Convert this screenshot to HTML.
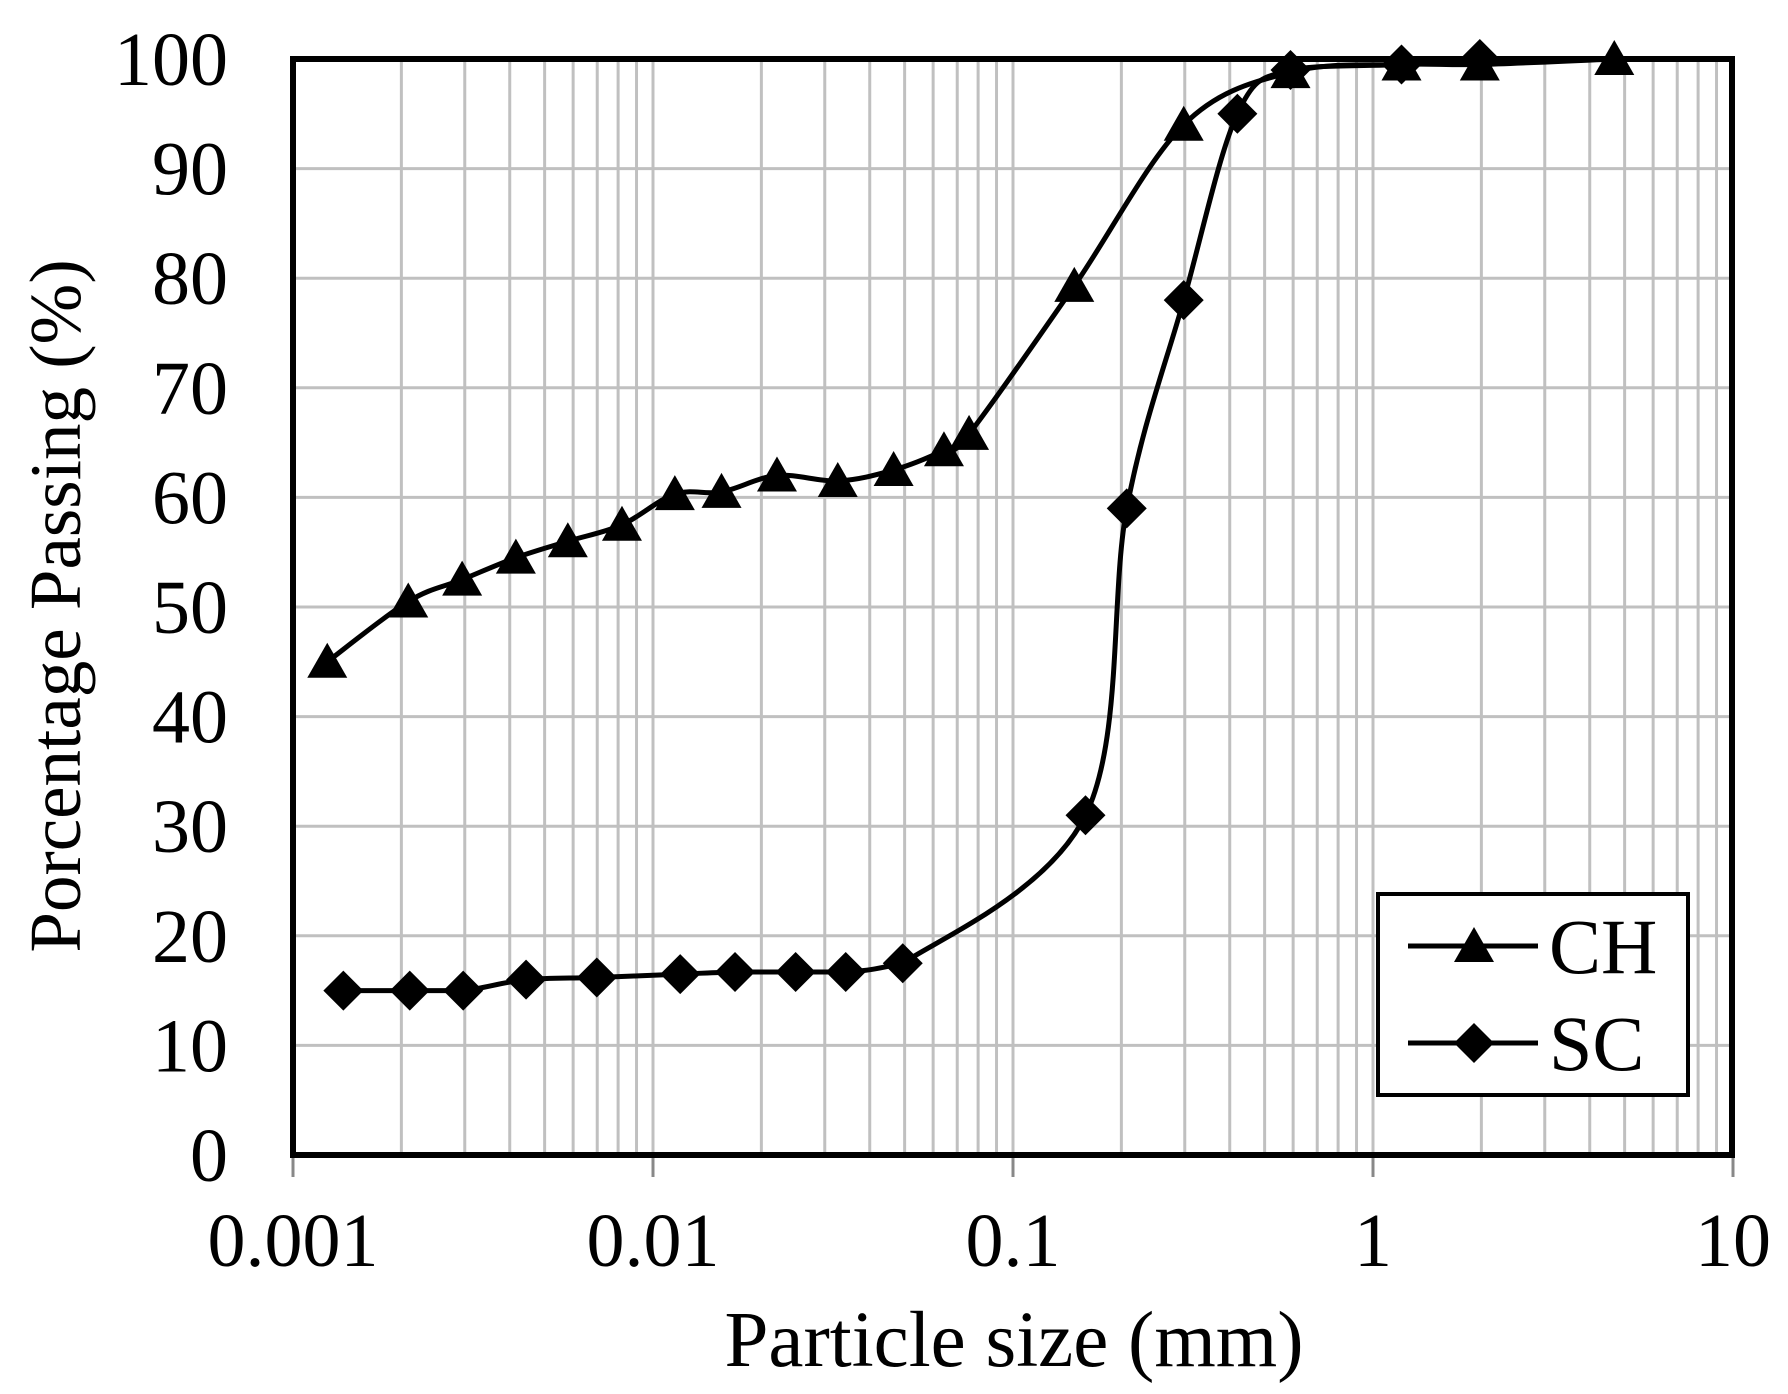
<!DOCTYPE html>
<html><head><meta charset="utf-8"><style>
html,body{margin:0;padding:0;background:#fff}
svg{display:block}
text{font-family:"Liberation Serif",serif;fill:#000}
</style></head><body>
<svg id="s" width="1788" height="1394" viewBox="0 0 1788 1394" xmlns="http://www.w3.org/2000/svg">
<rect width="1788" height="1394" fill="#fff"/>
<g id="grid"></g>
<g id="series"></g>
<rect x="293" y="59" width="1439" height="1096" fill="none" stroke="#000" stroke-width="6"/>
<g id="labels"></g>
<text x="1014" y="1366" font-size="79" text-anchor="middle">Particle size (mm)</text>
<text transform="translate(80,606) rotate(-90)" font-size="73" text-anchor="middle">Porcentage Passing (%)</text>
<rect x="1378" y="894" width="310" height="201" fill="#fff" stroke="#000" stroke-width="4"/>
<line x1="1408" y1="946" x2="1538" y2="946" stroke="#000" stroke-width="5"/>
<polygon points="1474,927 1494,962 1454,962" fill="#000"/>
<text x="1549" y="973" font-size="78">CH</text>
<line x1="1408" y1="1043" x2="1538" y2="1043" stroke="#000" stroke-width="5"/>
<polygon points="1474,1023 1494,1043 1474,1063 1454,1043" fill="#000"/>
<text x="1549" y="1070" font-size="78">SC</text>
</svg>
<script>
const NS="http://www.w3.org/2000/svg";
const X=v=>293+360*(Math.log10(v)+3), Y=p=>1155-10.96*p;
function el(t,a,par){const e=document.createElementNS(NS,t);for(const k in a)e.setAttribute(k,a[k]);document.getElementById(par).appendChild(e);return e;}
for(let d=-3;d<1;d++)for(let m=1;m<=9;m++){const x=X(m*Math.pow(10,d));if(m>1||d>-3)el('line',{x1:x,y1:59,x2:x,y2:1155,stroke:'#c0c0c0','stroke-width':3},'grid');}
for(let p=10;p<100;p+=10)el('line',{x1:293,y1:Y(p),x2:1732,y2:Y(p),stroke:'#c0c0c0','stroke-width':3},'grid');
for(let d=-3;d<=1;d++){const x=X(Math.pow(10,d));el('line',{x1:x,y1:1155,x2:x,y2:1177,stroke:'#888','stroke-width':3},'grid');}
const xl=['0.001','0.01','0.1','1','10'];
xl.forEach((t,i)=>{const e=el('text',{x:X(Math.pow(10,i-3)),y:1266,'font-size':76,'text-anchor':'middle'},'labels');e.textContent=t;});
for(let p=0;p<=100;p+=10){const e=el('text',{x:228,y:Y(p)+26,'font-size':76,'text-anchor':'end'},'labels');e.textContent=p;}
const CH=[[0.001245,45],[0.00209,50.5],[0.00295,52.5],[0.00416,54.5],[0.0058,56],[0.0082,57.5],[0.0115,60.3],[0.0155,60.5],[0.0221,62],[0.0326,61.5],[0.0466,62.5],[0.0643,64.3],[0.0755,65.8],[0.148,79.3],[0.298,94],[0.59,98.8],[1.2,99.5],[1.98,99.5],[4.68,100]];
const SC=[[0.00138,15],[0.00211,15],[0.00297,15],[0.00444,16],[0.00698,16.2],[0.0119,16.5],[0.0169,16.7],[0.0249,16.7],[0.0343,16.7],[0.0494,17.5],[0.159,31],[0.207,59],[0.298,78],[0.42,95],[0.59,99],[1.2,99.5],[1.98,100]];
function path(data,clamp){const P=data.map(d=>[X(d[0]),Y(d[1])]);let s=`M${P[0][0]},${P[0][1]}`;
const cl=(v,a,b)=>clamp?Math.min(Math.max(v,Math.min(a,b)),Math.max(a,b)):v;
for(let i=0;i<P.length-1;i++){const p0=P[i-1]||P[i],p1=P[i],p2=P[i+1],p3=P[i+2]||P[i+1];const t=0.5/3;
s+=` C${p1[0]+(p2[0]-p0[0])*t},${cl(p1[1]+(p2[1]-p0[1])*t,p1[1],p2[1])} ${p2[0]-(p3[0]-p1[0])*t},${cl(p2[1]-(p3[1]-p1[1])*t,p1[1],p2[1])} ${p2[0]},${p2[1]}`;}
el('path',{d:s,fill:'none',stroke:'#000','stroke-width':5},'series');return P;}
path(CH,false).forEach(([x,y])=>el('polygon',{points:`${x},${y-19} ${x+20},${y+16} ${x-20},${y+16}`,fill:'#000'},'series'));
path(SC,true).forEach(([x,y])=>el('polygon',{points:`${x},${y-20} ${x+20},${y} ${x},${y+20} ${x-20},${y}`,fill:'#000'},'series'));
</script>
</body></html>
